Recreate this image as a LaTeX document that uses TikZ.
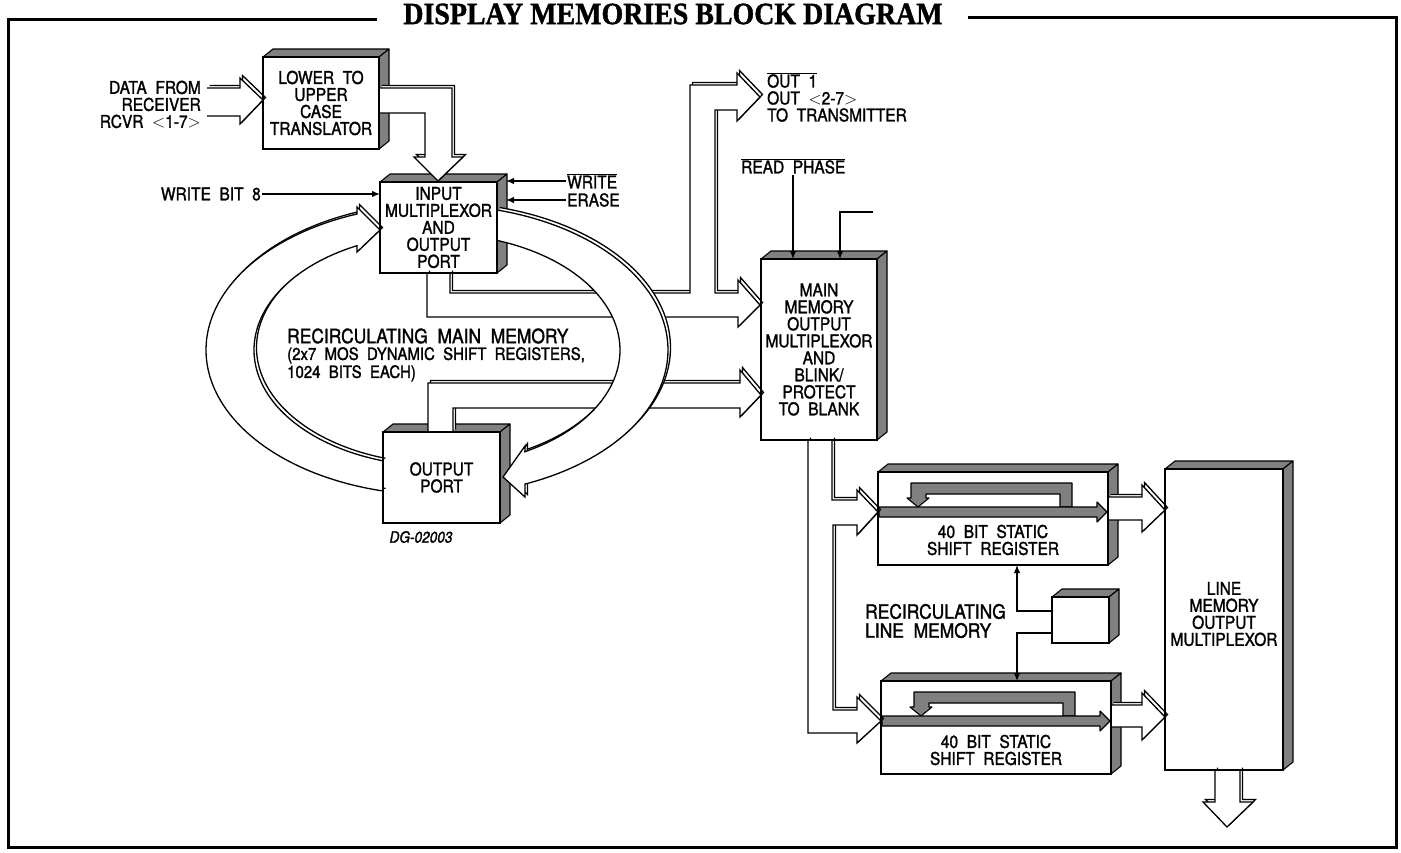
\documentclass[tikz,border=0pt]{standalone}
\usepackage{fontspec}
\setmainfont{TeX Gyre Heros}[WordSpace=2, FakeBold=1.5, FakeStretch=0.88]
\newfontfamily\titlefont{Liberation Serif}[FakeBold=1.2, FakeStretch=0.9]
\usetikzlibrary{arrows.meta}
\newcommand\boxfont{\fontsize{17.6}{17}\selectfont}
\newcommand\bigfont{\fontsize{19.8}{19}\selectfont}
\newcommand\ovl[1]{$\overline{\hbox{#1}}$}
\newcommand\fatarrow[2][]{\draw[fatline,#1,shift={(2.5,-2.5)}] #2; \draw[fatline,#1] #2;}
\newcommand\threed[1]{%
  \filldraw[shadeface] (#1.north west) -- ++(10,-8) -- ([shift={(10,-8)}]#1.north east) -- (#1.north east) -- cycle;
  \filldraw[shadeface] (#1.north east) -- ++(10,-8) -- ([shift={(10,-8)}]#1.south east) -- (#1.south east) -- cycle;}
\newcommand\blk[6]{%
  \node[boxface, minimum width={(#4-#2)*1pt}, minimum height={(#5-#3)*1pt}] (#1) at ({(#2+#4)/2},{(#3+#5)/2}) {#6};
  \threed{#1}}
\newcommand\srinside{%
  \filldraw[shadeface] (1072,507) -- (1072,483) -- (911,483) -- (911,498) -- (907,498) -- (918,507) -- (929,498) -- (926,498) -- (926,494) -- (1060,494) -- (1060,507) -- cycle;
  \filldraw[shadeface] (879,507) -- (1097,507) -- (1097,502) -- (1107,512) -- (1097,522) -- (1097,517) -- (879,517) -- cycle;}
\begin{document}
\begin{tikzpicture}[x=1pt,y=-1pt,
  boxface/.style={draw, fill=white, line width=1.6pt, inner sep=0pt, outer sep=0pt, align=center, font=\boxfont},
  shadeface/.style={fill=black!50, draw=black, line width=1.1pt, line join=round},
  fatline/.style={draw=black, fill=white, line width=1.3pt, line join=miter},
  thinln/.style={line width=1.3pt},
  tipa/.style={-{Latex[length=8pt,width=6.5pt]}},
  lbl/.style={font=\boxfont, inner sep=1pt, align=center},
  frame/.style={line width=3pt}]
\useasboundingbox (0,0) rectangle (1401,852);
% frame and title
\node[font=\titlefont\bfseries\fontsize{31}{32}\selectfont, inner sep=0pt] (title) at (673,14) {DISPLAY MEMORIES BLOCK DIAGRAM};
\draw[frame] (377,19) -- (8,19) -- (8,847) -- (1396,847) -- (1396,17) -- (968,17);
% boxes
\blk{tr}{263}{57}{379}{149}{LOWER TO\\UPPER\\CASE\\TRANSLATOR}
\blk{mux}{380}{182}{497}{273}{INPUT\\MULTIPLEXOR\\AND\\OUTPUT\\PORT}
\blk{op}{383}{432}{500}{523}{OUTPUT\\PORT}
\blk{mm}{761}{259}{877}{440}{MAIN\\MEMORY\\OUTPUT\\MULTIPLEXOR\\AND\\BLINK/\\PROTECT\\TO BLANK}
\blk{sr1}{878}{472}{1108}{565}{}
\blk{sr2}{881}{681}{1111}{774}{}
\blk{ctl}{1052}{597}{1109}{643}{}
\blk{lm}{1165}{469}{1283}{770}{}
\srinside
\begin{scope}[shift={(3,209)}]\srinside\end{scope}
% straight wide arrows
\fatarrow{(207,88) -- (240,88) -- (240,78) -- (263,100) -- (240,124) -- (240,116) -- (207,116)}
\fatarrow{(379,88) -- (452,88) -- (452,157) -- (463,157) -- (438,181) -- (414,157) -- (425,157) -- (425,113) -- (379,113)}
\fatarrow{(427,273) -- (427,317) -- (738,317) -- (738,327) -- (760,305) -- (738,280) -- (738,293) -- (715,293) -- (715,110) -- (737,110) -- (737,121) -- (760,97) -- (737,73) -- (737,85) -- (690,85) -- (690,293) -- (450,293) -- (450,273)}
\fatarrow{(428,432) -- (428,383) -- (740,383) -- (740,370) -- (761,395) -- (740,417) -- (740,408) -- (453,408) -- (453,432)}
\fatarrow{(808,440) -- (808,733) -- (857,733) -- (857,743) -- (881,721) -- (857,697) -- (857,710) -- (833,710) -- (833,525) -- (857,525) -- (857,535) -- (878,512) -- (857,490) -- (857,500) -- (832,500) -- (832,440)}
\fatarrow{(1108,497) -- (1142,497) -- (1142,485) -- (1165,510) -- (1142,532) -- (1142,520) -- (1108,520)}
\fatarrow{(1111,705) -- (1142,705) -- (1142,693) -- (1165,717) -- (1142,740) -- (1142,727) -- (1111,727)}
\fatarrow{(1215,770) -- (1215,802) -- (1203,802) -- (1227,827) -- (1253,802) -- (1240,802) -- (1240,770)}
% recirculating ring
\fatarrow{plot[domain=74.9:-67.6,samples=90] ({437+231*cos(\x)},{350-145*sin(\x)}) -- (525,497) -- (503,477) -- (525,446) -- plot[domain=-61.3:70.9,samples=90] ({437+183*cos(\x)},{350-116*sin(\x)})}
\fatarrow{plot[domain=256.5:110.3,samples=90] ({437+231*cos(\x)},{350-145*sin(\x)}) -- (357,207) -- (380,230) -- (357,252) -- plot[domain=115.9:252.8,samples=90] ({437+183*cos(\x)},{350-116*sin(\x)})}
% redraw front faces
\foreach \n in {tr,mux,op,mm,sr1,sr2,ctl,lm}{\draw[line width=1.6pt] (\n.north west) rectangle (\n.south east);}
% texts
\node[lbl, anchor=east, align=right] (data) at (202,104.5) {DATA FROM\\RECEIVER\\RCVR $<$1-7$>$};
\node[lbl, anchor=east] (wb8) at (262,194) {WRITE BIT 8};
\node[lbl, anchor=west] (wr) at (566,181) {\ovl{WRITE}};
\node[lbl, anchor=west] (er) at (566,200) {ERASE};
\coordinate (muxr) at ([xshift=9]mux.east);
\node[lbl, anchor=west, align=left] (out) at (766,97) {\ovl{OUT 1}\\OUT $<$2-7$>$\\TO TRANSMITTER};
\node[lbl, anchor=west] (rp) at (740,166) {\ovl{READ PHASE}};
\node[lbl, anchor=west, font=\bigfont] (rmm) at (286,336) {RECIRCULATING MAIN MEMORY};
\node[lbl, anchor=north west, align=left, font=\fontsize{17}{18}\selectfont] (rmm2) at (286,346) {(2x7 MOS DYNAMIC SHIFT REGISTERS,\\1024 BITS EACH)};
\node[lbl, font=\itshape\fontsize{15.5}{15}\selectfont] (dg) at (421,537) {DG-02003};
\node[lbl] (sr1t) at (993,540) {40 BIT STATIC\\SHIFT REGISTER};
\node[lbl] (sr2t) at (996,750) {40 BIT STATIC\\SHIFT REGISTER};
\node[lbl, anchor=west, align=left, font=\bigfont] (rlm) at (864,621) {RECIRCULATING\\LINE MEMORY};
\node[lbl] (lmt) at (1224,614) {LINE\\MEMORY\\OUTPUT\\MULTIPLEXOR};
% thin arrows
\draw[thinln,tipa] (wb8.east) -- (wb8.east -| mux.west);
\draw[thinln,tipa] (wr.west) -- (wr.west -| muxr);
\draw[thinln,tipa] (er.west) -- (er.west -| muxr);
\draw[thinln,tipa] (rp.south -| 793,0) -- (mm.north -| 793,0);
\coordinate (freeend) at (873,212);
\draw[thinln,tipa] (freeend) -| (mm.north -| 840,0);
\draw[thinln,tipa] (ctl.west |- 0,611) -| (sr1.south -| 1017,0);
\draw[thinln,tipa] (ctl.west |- 0,633) -| (sr2.north -| 1017,0);
\end{tikzpicture}
\end{document}
